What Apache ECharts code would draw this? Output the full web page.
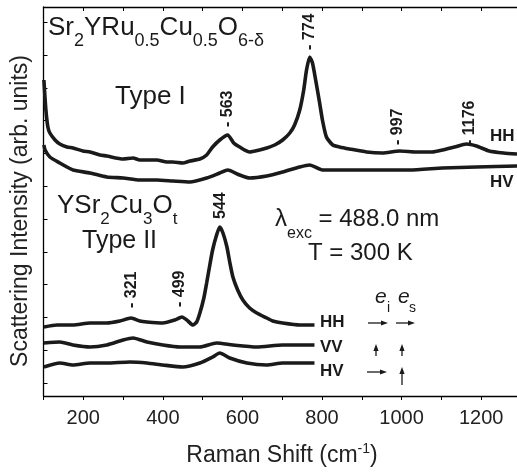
<!DOCTYPE html>
<html><head><meta charset="utf-8">
<script src="https://cdn.jsdelivr.net/npm/echarts@6/dist/echarts.min.js"></script>
<style>html,body{margin:0;padding:0;background:#fff}#c{width:517px;height:474px}</style>
</head><body><div id="c"></div>
<script>
// ---------- data (Raman shift cm^-1, intensity arb. units) ----------
const xMin = 100, xMax = 1290, xStep = 100;
const xTickLabels = [200, 400, 600, 800, 1000, 1200];
const yMin = 0, yMax = 389;
const yTicks = [13, 45.8, 78.6, 111.4, 144.2, 177, 209.8, 242.6, 275.4, 308.2, 341, 373.8];

const typeI_HH = [[101,316],[106,286],[111,269],[116,263],[129,256],[141,252],[159,249],[174,248],[199,245],[217,244],[242,241],[259,240],[300,237],[325,238],[342,236],[385,236],[410,234],[425,234],[450,233],[468,235],[493,237],[510,241],[525,249],[543,256],[563,261],[578,253],[593,249],[618,244],[643,246],[661,248],[681,251],[701,256],[719,263],[731,271],[744,286],[754,306],[761,326],[769,339],[776,333],[784,316],[794,293],[801,276],[811,259],[827,251],[844,249],[869,247],[912,244],[952,243],[995,245],[1037,244],[1077,244],[1103,246],[1133,249],[1163,252],[1188,250],[1220,245],[1256,243],[1290,242]];
const typeI_HV = [[101,251],[104,246],[116,239],[141,233],[159,229],[174,226],[217,223],[259,219],[300,218],[342,216],[385,216],[425,215],[468,214],[510,218],[543,223],[563,226],[593,221],[618,218],[661,220],[701,224],[744,229],[769,231],[801,226],[852,226],[937,226],[1020,226],[1103,228],[1188,229],[1290,230]];
const typeII_HH = [[101,69],[134,71],[174,71],[217,73],[259,73],[292,75],[320,78],[342,75],[360,74],[400,73],[430,76],[448,79],[463,75],[475,71],[485,74],[493,83],[503,98],[510,113],[518,131],[525,146],[535,161],[543,169],[551,163],[561,149],[568,134],[576,119],[588,106],[601,96],[618,88],[636,83],[661,78],[676,75],[701,73],[744,71],[781,71]];
const typeII_VV = [[101,53],[141,54],[174,51],[217,49],[259,51],[300,56],[325,58],[360,54],[400,51],[443,49],[493,49],[535,53],[576,51],[636,49],[701,51],[781,51]];
const typeII_HV = [[101,29],[141,33],[174,31],[217,33],[259,33],[317,34],[360,33],[400,31],[450,29],[493,33],[525,39],[543,43],[568,38],[611,33],[661,31],[701,33],[781,33]];

// peak labels: [text, raman shift, intensity at label foot]
const peakLabels = [['- 563',563,269],['- 774',769,346],['- 997',990,251],['- 1176',1170,251],['- 321',321,88],['- 499',442,89],['544',544,177]];

// ---------- chart ----------
const FAM = '"Liberation Sans", Arial, Helvetica, sans-serif';
const INK = '#1a1a1a';
const chart = echarts.init(document.getElementById('c'), null, {renderer: 'canvas'});
const mk = (d) => ({type:'line', data:d, showSymbol:false, smooth:0.2, xAxisIndex:0, yAxisIndex:0,
  lineStyle:{color:INK, width:3.6}, silent:true, animation:false});

chart.setOption({
  animation:false,
  grid:{left:43.5, right:0, top:7, bottom:78, containLabel:false},
  xAxis:[{
    type:'value', min:xMin, max:xMax, interval:xStep, position:'bottom',
    axisLine:{lineStyle:{color:'#000', width:1.3}},
    axisTick:{inside:false, length:4, lineStyle:{color:'#000', width:1}},
    axisLabel:{customValues:xTickLabels, margin:12, fontSize:20, color:'#222', fontFamily:FAM,
      formatter:(v)=>String(v)},
    splitLine:{show:false}
  },{
    type:'value', min:xMin, max:xMax, interval:xStep, position:'top',
    axisLine:{show:true, lineStyle:{color:'#000', width:1.3}},
    axisTick:{show:true, inside:true, length:4, lineStyle:{color:'#000', width:1}},
    axisLabel:{show:false}, splitLine:{show:false}
  }],
  yAxis:[{
    type:'value', min:yMin, max:yMax,
    axisLine:{show:true, lineStyle:{color:'#000', width:1.3}},
    axisTick:{show:true, inside:true, length:4, customValues:yTicks, lineStyle:{color:'#000', width:1}},
    axisLabel:{show:false}, splitLine:{show:false}
  }],
  series:[mk(typeI_HH), mk(typeI_HV), mk(typeII_HH), mk(typeII_VV), mk(typeII_HV)]
});

// ---------- text annotations ----------
const cv = document.createElement('canvas').getContext('2d');
function fstr(o){ return `${o.style||'normal'} ${o.weight||'normal'} ${o.size}px ${FAM}`; }
function tw(t,o){ cv.font = fstr(o); return cv.measureText(t).width; }
function txt(t, x, base, o, extra){
  return Object.assign({type:'text', x, y: base - 0.35*o.size, silent:true,
    style:{text:t, fontSize:o.size, fontFamily:FAM, fontWeight:o.weight||'normal', fontStyle:o.style||'normal',
      fill:o.color||'#222', align:'left', verticalAlign:'middle'}}, extra||{});
}
function seq(x0, base, segs, o){
  let x = x0; const els = [];
  for (const [t,k] of segs){
    const so = Object.assign({}, o, {size: k==='n' ? o.size : o.sub});
    const b = k==='b' ? base + o.subDy : (k==='p' ? base - o.supDy : base);
    els.push(txt(t, x, b, so));
    x += tw(t, so);
  }
  return els;
}
function seqWidth(segs, o){
  let w = 0;
  for (const [t,k] of segs) w += tw(t, Object.assign({}, o, {size: k==='n' ? o.size : o.sub}));
  return w;
}

const G = [];
const form = {size:26, sub:18, subDy:10, color:'#1a1a1a'};
G.push(...seq(48, 37, [['Sr','n'],['2','b'],['YRu','n'],['0.5','b'],['Cu','n'],['0.5','b'],['O','n'],['6-δ','b']], form));
G.push(txt('Type I', 115, 106, {size:26, color:'#1a1a1a'}));
G.push(...seq(57, 215, [['YSr','n'],['2','b'],['Cu','n'],['3','b'],['O','n'],['t','b']], Object.assign({}, form, {sub:17})));
G.push(txt('Type II', 82, 250, {size:25, color:'#1a1a1a'}));
const ann = {size:24, sub:16, subDy:11, color:'#1a1a1a'};
G.push(...seq(275, 228, [['λ','n'],['exc','b'],[' = 488.0 nm','n']], ann));
G.push(txt('T = 300 K', 308, 262, ann));

const pol = {size:17, weight:'bold', color:'#1a1a1a'};
G.push(txt('HH', 490, 142, pol), txt('HV', 490, 188, pol));
G.push(txt('HH', 320, 328, pol), txt('VV', 320, 353, pol), txt('HV', 320, 377, pol));

const ei = {size:21, style:'italic', color:'#1a1a1a'};
G.push(txt('e', 375, 305, ei), txt('i', 387, 313, {size:14, color:'#1a1a1a'}));
G.push(txt('e', 398, 305, ei), txt('s', 409, 313, {size:14, color:'#1a1a1a'}));

function arrowR(x1,x2,y){ return [
  {type:'line', silent:true, shape:{x1, y1:y, x2:x2-5, y2:y}, style:{stroke:INK, lineWidth:1.3}},
  {type:'polygon', silent:true, shape:{points:[[x2,y],[x2-7,y-2.6],[x2-7,y+2.6]]}, style:{fill:INK}}]; }
function arrowU(x,y1,y2){ return [
  {type:'line', silent:true, shape:{x1:x, y1, x2:x, y2:y2+5}, style:{stroke:INK, lineWidth:1.3}},
  {type:'polygon', silent:true, shape:{points:[[x,y2],[x-2.6,y2+7],[x+2.6,y2+7]]}, style:{fill:INK}}]; }
G.push(...arrowR(368,388,323), ...arrowR(396,415,323));
G.push(...arrowU(376,356,344), ...arrowU(402,356,344));
G.push(...arrowR(367,387,372), ...arrowU(402,385,367));

// axis titles
G.push({type:'text', x:21, y:211, rotation:Math.PI/2, silent:true,
  style:{text:'Scattering Intensity (arb. units)', fontSize:23, fontFamily:FAM, fill:'#222', align:'center', verticalAlign:'middle'}});
const xt = {size:23, sub:14, supDy:10, color:'#222'};
const xsegs = [['Raman Shift (cm','n'],['-1','p'],[')','n']];
G.push(...seq(282 - seqWidth(xsegs, xt)/2, 464, xsegs, xt));

// peak labels tied to data coordinates
for (const [t, cm, inten] of peakLabels){
  const p = chart.convertToPixel({xAxisIndex:0, yAxisIndex:0}, [cm, inten]);
  G.push({type:'text', x:p[0], y:p[1], rotation:Math.PI/2, silent:true,
    style:{text:t, fontSize:16, fontWeight:'bold', fontFamily:FAM, fill:'#1a1a1a', align:'left', verticalAlign:'middle'}});
}

chart.setOption({graphic:{elements:G}});
</script></body></html>
